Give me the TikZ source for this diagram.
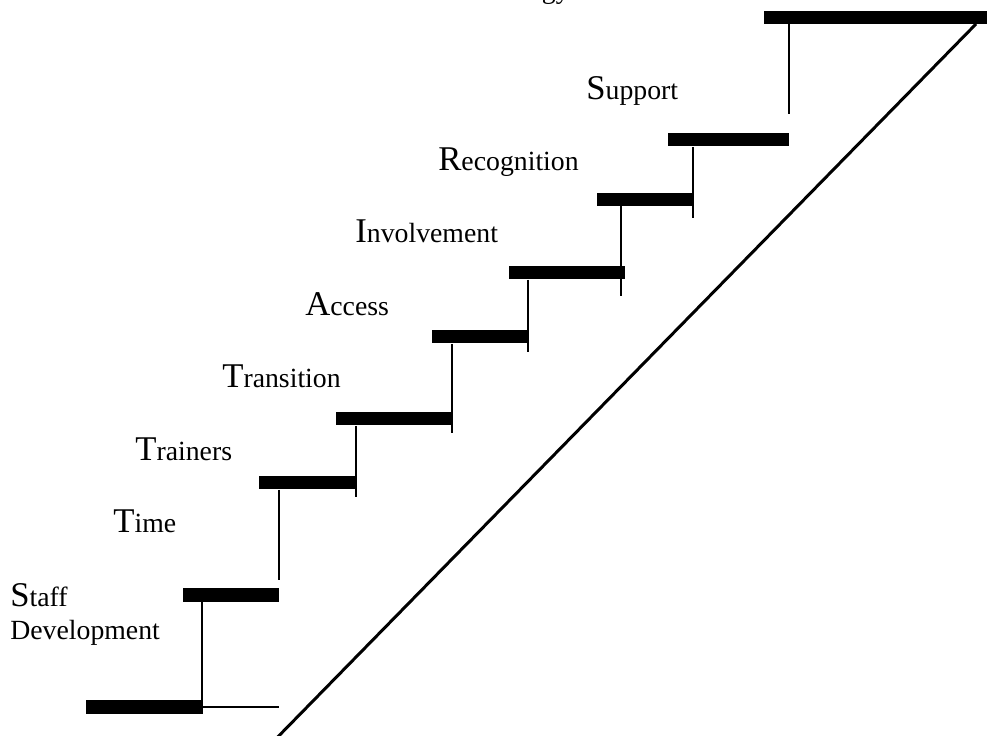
\documentclass[tikz,border=0pt]{standalone}
\usepackage{fontspec}
\setmainfont{Liberation Serif}
\usepackage{tikz}
\usetikzlibrary{positioning}

\tikzstyle{tread}     = [draw, line width=7.4pt, line cap=butt]
\tikzstyle{riser}     = [draw, line width=1.1pt]
\tikzstyle{stringer}  = [draw, line width=1.7pt]
\tikzstyle{steplabel} = [anchor=base west, inner sep=0pt, align=left,
    font=\fontsize{15.8}{19.3}\selectfont]
\newcommand{\bigfirst}[2]{{\fontsize{19.75}{19.3}\selectfont #1}#2}

\begin{document}
\begin{tikzpicture}[x=0.02cm, y=-0.02cm]
    \useasboundingbox (0,0) rectangle (988,736);
    \clip (0,0) rectangle (988,736);

    % Place nodes
    \node [steplabel] (labelStaff)   at (10,640)  {\bigfirst{S}{taff}\\Development};
    \node [steplabel] (labelTime)    at (113,533) {\bigfirst{T}{ime}};
    \node [steplabel] (labelTrain)   at (135,461) {\bigfirst{T}{rainers}};
    \node [steplabel] (labelTrans)   at (222,388) {\bigfirst{T}{ransition}};
    \node [steplabel] (labelAccess)  at (305,316) {\bigfirst{A}{ccess}};
    \node [steplabel] (labelInvolve) at (355,243) {\bigfirst{I}{nvolvement}};
    \node [steplabel] (labelRecog)   at (438,171) {\bigfirst{R}{ecognition}};
    \node [steplabel] (labelSupport) at (586,100) {\bigfirst{S}{upport}};
    \node [steplabel, anchor=base east] (labelTech) at (570,-1) {\bigfirst{T}{echnology}};

    % treads
    \path [tread] (86,707)  -- (203,707);
    \path [tread] (183,595) -- (279,595);
    \path [tread] (259,483) -- (356,483);
    \path [tread] (336,419) -- (452,419);
    \path [tread] (432,337) -- (528,337);
    \path [tread] (509,273) -- (625,273);
    \path [tread] (597,200) -- (693,200);
    \path [tread] (668,140) -- (789,140);
    \path [tread] (764,17.5) -- (987,17.5);

    % risers
    \path [riser] (203,707) -- (279,707);
    \path [riser] (202,602) -- (202,714);
    \path [riser] (279,490) -- (279,580);
    \path [riser] (356,426) -- (356,497);
    \path [riser] (452,344) -- (452,433);
    \path [riser] (528,280) -- (528,352);
    \path [riser] (621,206) -- (621,296);
    \path [riser] (693,147) -- (693,218);
    \path [riser] (789,24)  -- (789,114);

    \path [stringer] (265,750) -- (976,24);
\end{tikzpicture}
\end{document}
